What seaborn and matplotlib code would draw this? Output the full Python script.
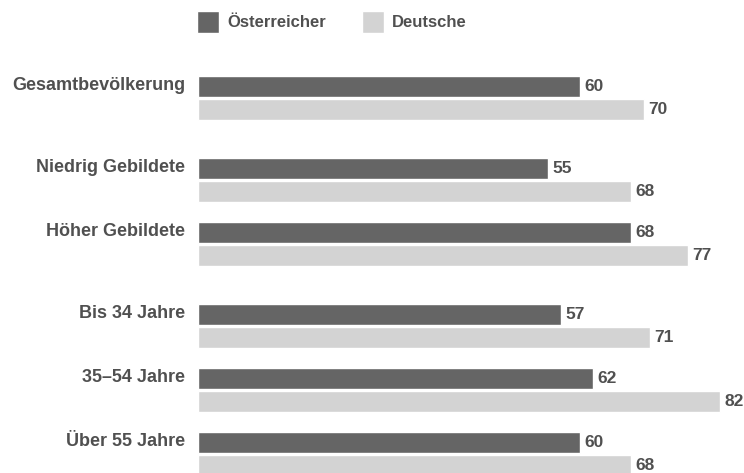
import numpy as np
import pandas as pd
import matplotlib
matplotlib.use("Agg")
import matplotlib.pyplot as plt
import seaborn as sns

# Zustimmung in Prozent, nach Bevölkerungsgruppe
categories = ["Gesamtbevölkerung", "Niedrig Gebildete", "Höher Gebildete",
              "Bis 34 Jahre", "35–54 Jahre", "Über 55 Jahre"]
series_names = ["Österreicher", "Deutsche"]
oesterreicher = [60, 55, 68, 57, 62, 60]
deutsche = [70, 68, 77, 71, 82, 68]
# which block each row belongs to (total / education / age)
section = [0, 1, 1, 2, 2, 2]

DARK = "#656565"
LIGHT = "#d3d3d3"
TEXT = "#505050"

sns.set_theme(style="white")
plt.rcParams["font.family"] = ["Liberation Sans", "DejaVu Sans"]

# row positions with a little extra space between the blocks
pos = np.arange(len(categories)) + np.array(section) * 0.28

df = pd.DataFrame({
    "pos": np.tile(pos, 2),
    "Gruppe": np.repeat(series_names, len(categories)),
    "Wert": oesterreicher + deutsche,
})

fig = plt.figure(figsize=(7.44, 4.73), dpi=100)
ax = fig.add_axes([198 / 744, 0.0, 1 - 198 / 744, 1 - 60 / 473])

width = 0.72
sns.barplot(data=df, x="Wert", y="pos", hue="Gruppe", hue_order=series_names,
            orient="h", native_scale=True, palette=[DARK, LIGHT],
            width=width, gap=0.087, errorbar=None, saturation=1, ax=ax)

ax.set_xlim(0, (744 - 198) / 6.37)
ax.set_ylim((473 - 98) / 64, (60 - 98) / 64)

for cont in ax.containers:
    ax.bar_label(cont, padding=3, fontsize=12.5, fontweight="bold", color=TEXT)

# category names sit beside the upper (Österreicher) bar of each pair
ax.set_yticks(pos - width / 4 - 0.05, categories)
ax.tick_params(axis="y", length=0, pad=9, labelsize=13, labelcolor=TEXT)
for lbl in ax.get_yticklabels():
    lbl.set_fontweight("bold")
ax.set_xticks([])
ax.set_xlabel("")
ax.set_ylabel("")
for sp in ax.spines.values():
    sp.set_visible(False)

sns.move_legend(ax, "upper left", bbox_to_anchor=(197 / 744, 1 - 11 / 473),
                bbox_transform=fig.transFigure, ncol=2, frameon=False,
                title=None, borderpad=0, borderaxespad=0,
                handlelength=1.32, handleheight=1.65,
                handletextpad=0.48, columnspacing=2.16,
                prop={"weight": "bold", "size": 12})
for t in ax.get_legend().get_texts():
    t.set_color(TEXT)

fig.savefig("out.png", dpi=100, facecolor="white")
